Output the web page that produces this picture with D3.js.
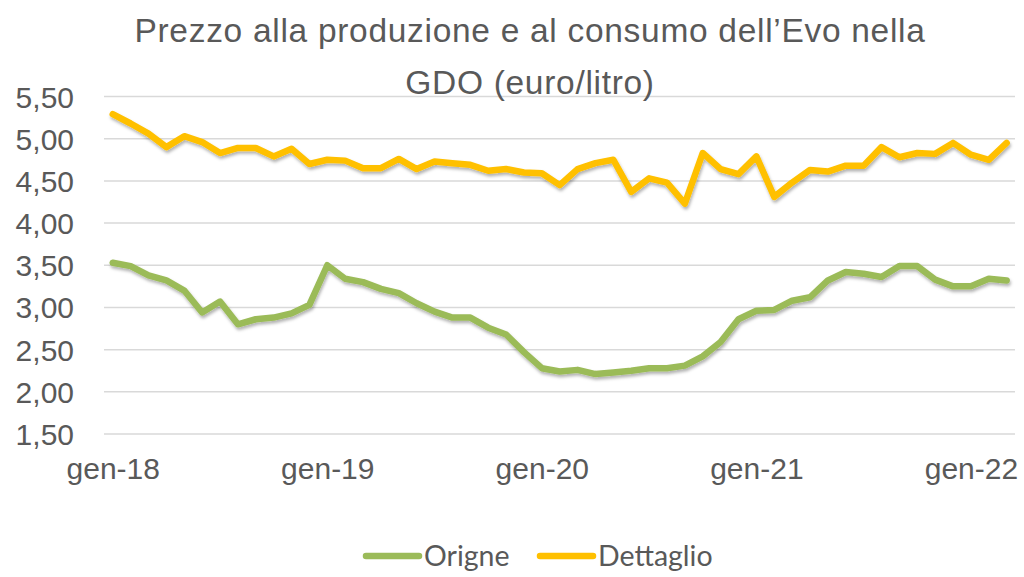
<!DOCTYPE html>
<html><head><meta charset="utf-8">
<script src="https://cdn.jsdelivr.net/npm/d3@7"></script>
<style>body{margin:0;background:#fff}svg{display:block}</style>
</head><body><svg id="c" width="1024" height="577"></svg>
<script>
const categories = [
 "gen-18","feb-18","mar-18","apr-18","mag-18","giu-18","lug-18","ago-18","set-18","ott-18","nov-18","dic-18",
 "gen-19","feb-19","mar-19","apr-19","mag-19","giu-19","lug-19","ago-19","set-19","ott-19","nov-19","dic-19",
 "gen-20","feb-20","mar-20","apr-20","mag-20","giu-20","lug-20","ago-20","set-20","ott-20","nov-20","dic-20",
 "gen-21","feb-21","mar-21","apr-21","mag-21","giu-21","lug-21","ago-21","set-21","ott-21","nov-21","dic-21",
 "gen-22","feb-22","mar-22"];
const origine = [3.53,3.49,3.38,3.32,3.20,2.94,3.07,2.80,2.86,2.88,2.93,3.03,
 3.50,3.34,3.30,3.22,3.17,3.05,2.95,2.88,2.88,2.76,2.68,2.47,
 2.28,2.24,2.26,2.21,2.23,2.25,2.28,2.28,2.31,2.42,2.59,2.86,
 2.96,2.97,3.08,3.12,3.32,3.42,3.40,3.36,3.49,3.49,3.33,3.25,
 3.25,3.34,3.32];
const dettaglio = [5.29,5.18,5.06,4.90,5.03,4.96,4.83,4.89,4.89,4.79,4.88,4.70,
 4.75,4.74,4.65,4.65,4.76,4.64,4.73,4.71,4.69,4.62,4.64,4.60,
 4.59,4.45,4.64,4.71,4.75,4.37,4.53,4.48,4.23,4.83,4.64,4.58,
 4.79,4.31,4.48,4.63,4.61,4.68,4.68,4.90,4.78,4.83,4.82,4.95,
 4.81,4.75,4.95];
const yTicks = [1.5,2,2.5,3,3.5,4,4.5,5,5.5];
const xTickLabels = ["gen-18","gen-19","gen-20","gen-21","gen-22"];
const seriesNames = ["Origne","Dettaglio"];
const colors = ["#9BBB59","#FFC000"];
const titleLines = ["Prezzo alla produzione e al consumo dell\u2019Evo nella","GDO (euro/litro)"];

const svg = d3.select("#c");
const x = d3.scalePoint().domain(categories).range([103.8,1015.6]).padding(0.5);
const y = d3.scaleLinear().domain([1.5,5.5]).range([434,96.5]);
const fmt = v => d3.format(".2f")(v).replace(".", ",");

const defs = svg.append("defs");
const f = defs.append("filter").attr("id","sh").attr("x","-5%").attr("y","-20%").attr("width","110%").attr("height","140%");
f.append("feDropShadow").attr("dx",1).attr("dy",2.5).attr("stdDeviation",1.8).attr("flood-color","#000").attr("flood-opacity",0.3);

// gridlines
svg.append("g").selectAll("line").data(yTicks).join("line")
  .attr("x1",104).attr("x2",1015).attr("y1",d=>y(d)).attr("y2",d=>y(d))
  .attr("stroke","#D9D9D9").attr("stroke-width",1.5);

// y axis labels
const yAxis = d3.axisLeft(y).tickValues(yTicks).tickFormat(fmt).tickSize(0).tickPadding(0);
const ya = svg.append("g").attr("transform","translate(74,0)").call(yAxis);
ya.select(".domain").remove();
ya.selectAll("text").attr("font-family","Liberation Sans, Arial, sans-serif").attr("font-size",30).attr("fill","#595959").attr("dy","0.35em");

// x axis labels
const xAxis = d3.axisBottom(x).tickValues(xTickLabels).tickSize(0).tickPadding(0);
const xa = svg.append("g").attr("transform","translate(0,450)").call(xAxis);
xa.select(".domain").remove();
xa.selectAll("text").attr("font-family","Liberation Sans, Arial, sans-serif").attr("font-size",30).attr("fill","#595959").attr("dy","0.95em");

// lines
const line = d3.line().x((d,i)=>x(categories[i])).y(d=>y(d)).curve(d3.curveLinear);
[origine, dettaglio].forEach((s,k)=>{
  svg.append("path").datum(s).attr("d",line).attr("fill","none")
    .attr("stroke",colors[k]).attr("stroke-width",6.5).attr("stroke-linejoin","round").attr("stroke-linecap","round")
    .attr("filter","url(#sh)");
});

// title
svg.append("g").selectAll("text").data(titleLines).join("text")
  .attr("x",530).attr("y",(d,i)=>42+i*52).attr("text-anchor","middle")
  .attr("font-family","Liberation Sans, Arial, sans-serif").attr("font-size",33.5).attr("letter-spacing","0.7px").attr("fill","#595959")
  .text(d=>d);

// legend
const lg = svg.append("g");
const legendX = [363, 537];
seriesNames.forEach((n,k)=>{
  lg.append("line").attr("x1",legendX[k]+3).attr("x2",legendX[k]+56).attr("y1",556).attr("y2",556)
    .attr("stroke",colors[k]).attr("stroke-width",6.5).attr("stroke-linecap","round");
  lg.append("text").attr("x",legendX[k]+61).attr("y",556).attr("dy","0.35em")
    .attr("font-family","Lato, Carlito, sans-serif").attr("font-size",28.5).attr("fill","#595959").text(n);
});
</script></body></html>
